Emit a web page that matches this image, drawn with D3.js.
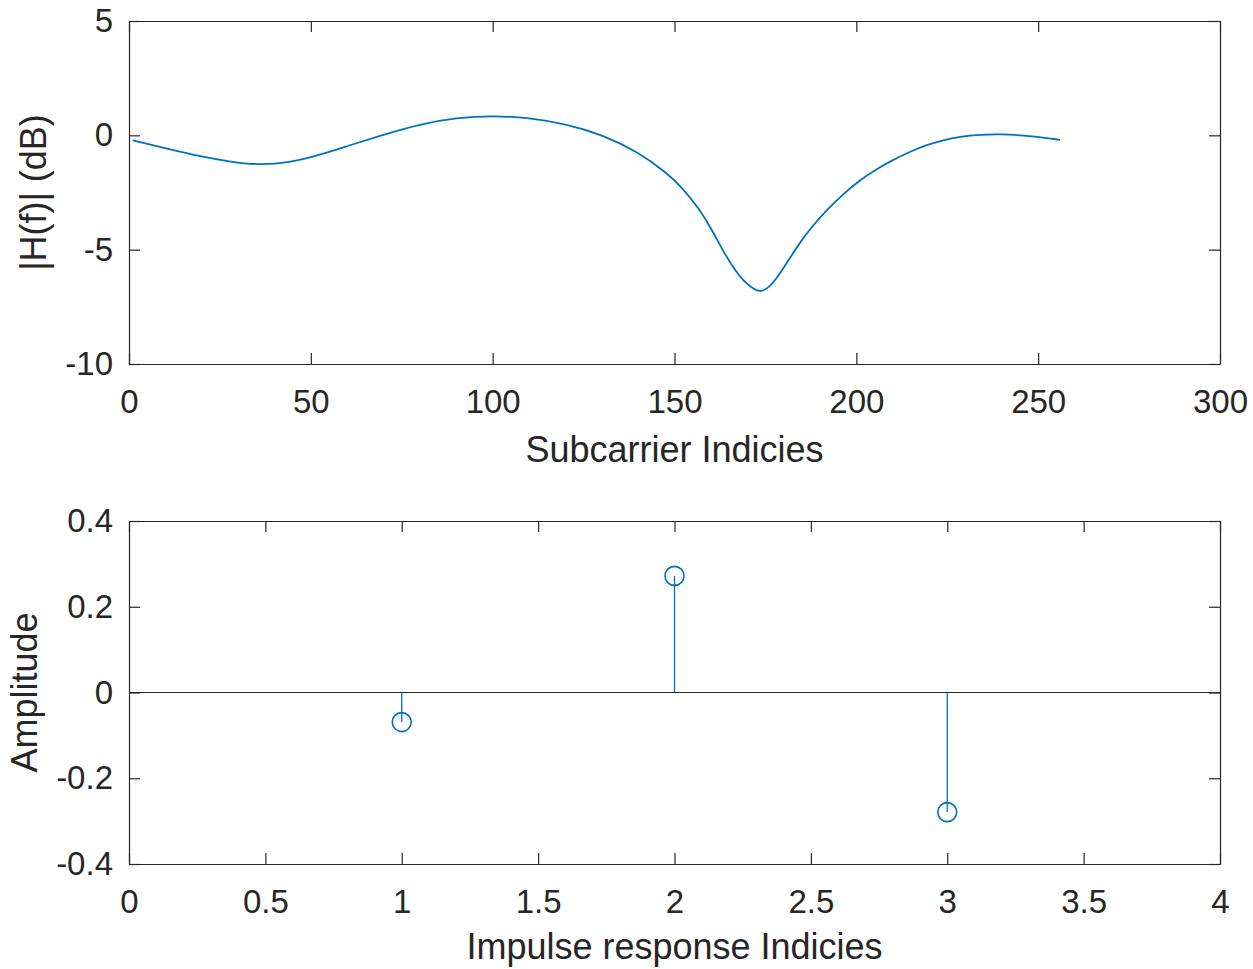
<!DOCTYPE html>
<html>
<head>
<meta charset="utf-8">
<script src="https://cdn.jsdelivr.net/npm/d3@7"></script>
<style>
  body { margin: 0; background: #fff; }
  text { font-family: "Liberation Sans", Arial, Helvetica, sans-serif; fill: #262626; }
  .axis path, .axis line { stroke: #262626; stroke-width: 1.2; }
</style>
</head>
<body>
<svg id="fig"></svg>
<script>
// magnitude response
const subcarrier = [1, 10, 20, 28, 36, 44, 52, 60, 70, 80, 90, 100, 110, 120, 130, 140, 148, 152, 157, 160, 164, 167, 169, 171, 173.5, 176, 178, 181, 184.5, 188, 192, 196, 201, 205.5, 210, 215, 219, 224, 228.5, 234, 239.5, 248.5, 256];
const magnitudeDb = [-0.22, -0.56, -0.93, -1.16, -1.30, -1.19, -0.88, -0.47, 0.03, 0.49, 0.77, 0.86, 0.77, 0.50, 0.04, -0.72, -1.66, -2.26, -3.26, -4.05, -5.25, -5.98, -6.36, -6.64, -6.88, -6.65, -6.28, -5.55, -4.68, -3.95, -3.25, -2.62, -1.95, -1.48, -1.08, -0.70, -0.44, -0.20, -0.06, 0.03, 0.06, -0.03, -0.20];

// impulse response taps
const tapIndex = [1, 2, 3];
const tapAmplitude = [-0.069, 0.272, -0.279];

const topXTicks = [0, 50, 100, 150, 200, 250, 300];
const topYTicks = [-10, -5, 0, 5];
const botXTicks = [0, 0.5, 1, 1.5, 2, 2.5, 3, 3.5, 4];
const botYTicks = [-0.4, -0.2, 0, 0.2, 0.4];

const W = 1253, H = 969;
const blue = "#0072BD";
const tickLen = 11;

const svg = d3.select("#fig").attr("width", W).attr("height", H);

// plain hyphen for negatives, like the original
const fmt = d => String(+d.toFixed(2));

function drawAxes(g, x, y, xTicks, yTicks, xLabel, yLabel, yLabelX, xLabelDy) {
    const [x0, x1] = x.range();
    const [y1, y0] = y.range();

    g.append("g").attr("class", "axis")
        .attr("transform", `translate(0,${y1})`)
        .call(d3.axisBottom(x).tickValues(xTicks).tickFormat(fmt).tickSizeInner(-tickLen).tickSizeOuter(0).tickPadding(26))
        .selectAll("text").attr("font-size", 33).attr("fill", "#262626");
    g.append("g").attr("class", "axis")
        .attr("transform", `translate(0,${y0})`)
        .call(d3.axisTop(x).tickValues(xTicks).tickFormat("").tickSizeInner(-tickLen).tickSizeOuter(0));
    g.append("g").attr("class", "axis")
        .attr("transform", `translate(${x0},0)`)
        .call(d3.axisLeft(y).tickValues(yTicks).tickFormat(fmt).tickSizeInner(-tickLen).tickSizeOuter(0).tickPadding(16))
        .selectAll("text").attr("font-size", 33).attr("fill", "#262626");
    g.append("g").attr("class", "axis")
        .attr("transform", `translate(${x1},0)`)
        .call(d3.axisRight(y).tickValues(yTicks).tickFormat("").tickSizeInner(-tickLen).tickSizeOuter(0));

    g.selectAll(".axis text").attr("font-family", null);
    g.selectAll(".domain").attr("stroke", "#262626");

    g.append("text")
        .attr("x", (x0 + x1) / 2)
        .attr("y", y1 + xLabelDy)
        .attr("text-anchor", "middle")
        .attr("font-size", 36)
        .text(xLabel);

    g.append("text")
        .attr("transform", `translate(${yLabelX},${(y0 + y1) / 2}) rotate(-90)`)
        .attr("text-anchor", "middle")
        .attr("font-size", 36)
        .text(yLabel);
}

// top: |H(f)|
const xTop = d3.scaleLinear().domain([0, 300]).range([129, 1220]);
const yTop = d3.scaleLinear().domain([-10, 5]).range([364, 21]);
const gTop = svg.append("g");

const curve = subcarrier.map((s, i) => ({ s: s, m: magnitudeDb[i] }));
gTop.append("path")
    .datum(curve)
    .attr("fill", "none")
    .attr("stroke", blue)
    .attr("stroke-width", 1.8)
    .attr("d", d3.line().x(d => xTop(d.s)).y(d => yTop(d.m)).curve(d3.curveBasis));

drawAxes(gTop, xTop, yTop, topXTicks, topYTicks, "Subcarrier Indicies", "|H(f)| (dB)", 46, 98);

// bottom: stem plot
const xBot = d3.scaleLinear().domain([0, 4]).range([129, 1220]);
const yBot = d3.scaleLinear().domain([-0.4, 0.4]).range([864, 521]);
const gBot = svg.append("g");

gBot.append("line")
    .attr("x1", xBot(0)).attr("x2", xBot(4))
    .attr("y1", yBot(0)).attr("y2", yBot(0))
    .attr("stroke", "#262626").attr("stroke-width", 1.2);

const taps = tapIndex.map((t, i) => ({ t: t, a: tapAmplitude[i] }));
gBot.selectAll(".stem")
    .data(taps)
    .enter().append("line")
    .attr("class", "stem")
    .attr("x1", d => xBot(d.t)).attr("x2", d => xBot(d.t))
    .attr("y1", yBot(0)).attr("y2", d => yBot(d.a))
    .attr("stroke", blue).attr("stroke-width", 1.3);

gBot.selectAll(".mark")
    .data(taps)
    .enter().append("circle")
    .attr("class", "mark")
    .attr("cx", d => xBot(d.t)).attr("cy", d => yBot(d.a))
    .attr("r", 9.5)
    .attr("fill", "none")
    .attr("stroke", blue).attr("stroke-width", 1.6);

drawAxes(gBot, xBot, yBot, botXTicks, botYTicks, "Impulse response Indicies", "Amplitude", 37, 95);
</script>
</body>
</html>
